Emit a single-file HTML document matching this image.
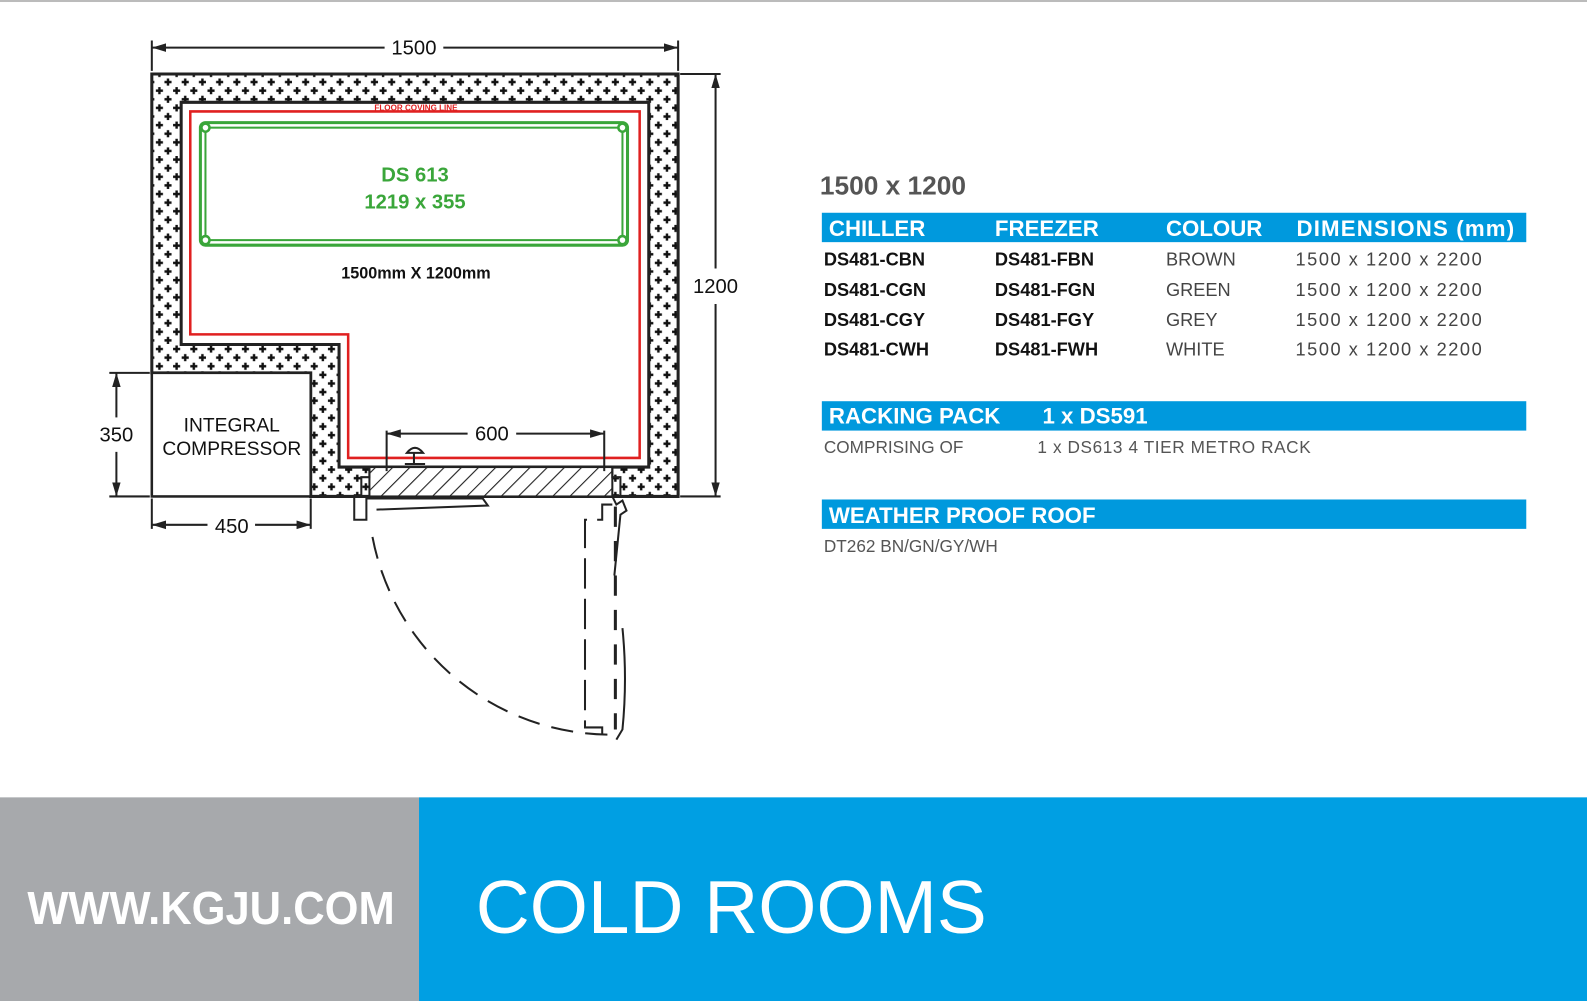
<!DOCTYPE html>
<html><head><meta charset="utf-8"><style>
html,body{margin:0;padding:0;background:#fff;}
svg{display:block;}
</style></head><body>
<svg width="1587" height="1001" viewBox="0 0 1568 988" preserveAspectRatio="none" xmlns="http://www.w3.org/2000/svg" font-family="Liberation Sans, sans-serif">
<defs>
<pattern id="dots" x="0" y="0" width="17" height="17" patternUnits="userSpaceOnUse">
<rect width="17" height="17" fill="#fff"/>
<path d="M4.5 1v7M1 4.5h7M13 9.5v7M9.5 13h7" stroke="#111" stroke-width="2.4"/>
</pattern>
<pattern id="hatch" width="12" height="12" patternUnits="userSpaceOnUse" patternTransform="rotate(45)">
<rect width="12" height="12" fill="#fff"/><line x1="0" y1="0" x2="0" y2="12" stroke="#222" stroke-width="2.2"/>
</pattern>
<marker id="ar" viewBox="0 0 10 10" refX="10" refY="5" markerWidth="7" markerHeight="7" orient="auto-start-reverse"><path d="M0 2L10 5L0 8z" fill="#222"/></marker>
</defs>
<rect x="0" y="0" width="1568" height="2" fill="#bbb"/>
<path fill-rule="evenodd" fill="url(#dots)" stroke="#222" stroke-width="3" d="M150 73H670V490H307V368H150Z M179 101H641V461H335V340H179Z"/>
<rect x="150" y="368" width="157" height="122" fill="#fff" stroke="#222" stroke-width="2.5"/>
<rect x="365" y="461" width="240" height="29" fill="url(#hatch)" stroke="#222" stroke-width="2"/>
<path d="M365 461v10h-8v19M605 461v10h8v19" stroke="#222" stroke-width="2" fill="none"/>
<path d="M188 110H632V452H344V330H188Z" fill="none" stroke="#e02020" stroke-width="2.5"/>
<text x="411" y="109" font-size="8" fill="#e02020" text-anchor="middle" font-weight="bold">FLOOR COVING LINE</text>
<rect x="198" y="121" width="422" height="121" rx="5" fill="none" stroke="#3aa63a" stroke-width="3"/>
<rect x="203" y="126" width="412" height="111" fill="none" stroke="#3aa63a" stroke-width="2"/>
<g fill="#fff" stroke="#3aa63a" stroke-width="2.5"><circle cx="203" cy="126" r="4"/><circle cx="615" cy="126" r="4"/><circle cx="203" cy="237" r="4"/><circle cx="615" cy="237" r="4"/></g>
<text x="410" y="179" font-size="20" font-weight="bold" fill="#3aa63a" text-anchor="middle">DS 613</text>
<text x="410" y="206" font-size="20" font-weight="bold" fill="#3aa63a" text-anchor="middle">1219 x 355</text>
<text x="411" y="275" font-size="16" font-weight="bold" fill="#111" text-anchor="middle">1500mm X 1200mm</text>
<text x="229" y="426" font-size="19" fill="#111" text-anchor="middle">INTEGRAL</text>
<text x="229" y="449" font-size="19" fill="#111" text-anchor="middle">COMPRESSOR</text>
<g stroke="#222" stroke-width="2" fill="none">
<path d="M150 40v30M670 40v30"/>
<line x1="150" y1="47" x2="380" y2="47" marker-start="url(#ar)"/>
<line x1="438" y1="47" x2="670" y2="47" marker-end="url(#ar)"/>
<path d="M672 73h40M672 490h40"/>
<line x1="707" y1="73" x2="707" y2="265" marker-start="url(#ar)"/>
<line x1="707" y1="300" x2="707" y2="490" marker-end="url(#ar)"/>
<path d="M108 368h40M108 490h40"/>
<line x1="115" y1="368" x2="115" y2="412" marker-start="url(#ar)"/>
<line x1="115" y1="446" x2="115" y2="490" marker-end="url(#ar)"/>
<path d="M150 492v30M307 492v30"/>
<line x1="150" y1="518" x2="205" y2="518" marker-start="url(#ar)"/>
<line x1="252" y1="518" x2="307" y2="518" marker-end="url(#ar)"/>
<path d="M382 425v40M597 425v40"/>
<line x1="382" y1="428" x2="462" y2="428" marker-start="url(#ar)"/>
<line x1="510" y1="428" x2="597" y2="428" marker-end="url(#ar)"/>
</g>
<g font-size="20" fill="#111" text-anchor="middle">
<text x="409" y="54">1500</text><text x="707" y="289">1200</text>
<text x="115" y="436">350</text><text x="229" y="526">450</text><text x="486" y="435">600</text>
</g>
<g stroke="#222" stroke-width="2" fill="none">
<path d="M402 447q8-10 16 0zM409 447v10M400 458h20"/>
<path d="M350 490h12v23h-12zM362 492h115l5 7l-110 4"/>
<path d="M605 490l4 8 6-4 4 10-6 4-6 60"/>
<path d="M368 530A240 240 0 0 0 610 725" stroke-dasharray="22 12"/>
<path d="M605 498h-10v15h-17v205h17v12" stroke-dasharray="30 10"/>
<path d="M608 500v220" stroke-dasharray="20 14" stroke-width="3"/>
<path d="M615 620q5 50 0 100l-6 10"/>
</g>
<text x="810" y="192" font-size="26" font-weight="bold" fill="#555">1500 x 1200</text>
<rect x="812" y="210" width="696" height="29" fill="#0099dd"/>
<g font-size="22" font-weight="bold" fill="#fff"><text x="819" y="233">CHILLER</text><text x="983" y="233">FREEZER</text><text x="1152" y="233">COLOUR</text><text x="1281" y="233" textLength="215">DIMENSIONS (mm)</text></g>
<g font-size="18" fill="#111">
<g font-weight="bold"><text x="814" y="262">DS481-CBN</text><text x="983" y="262">DS481-FBN</text>
<text x="814" y="292">DS481-CGN</text><text x="983" y="292">DS481-FGN</text>
<text x="814" y="322">DS481-CGY</text><text x="983" y="322">DS481-FGY</text>
<text x="814" y="351">DS481-CWH</text><text x="983" y="351">DS481-FWH</text></g>
<g fill="#444"><text x="1152" y="262">BROWN</text><text x="1152" y="292">GREEN</text><text x="1152" y="322">GREY</text><text x="1152" y="351">WHITE</text>
<text x="1280" y="262" textLength="184">1500 x 1200 x 2200</text><text x="1280" y="292" textLength="184">1500 x 1200 x 2200</text><text x="1280" y="322" textLength="184">1500 x 1200 x 2200</text><text x="1280" y="351" textLength="184">1500 x 1200 x 2200</text></g>
</g>
<rect x="812" y="396" width="696" height="29" fill="#0099dd"/>
<g font-size="22" font-weight="bold" fill="#fff"><text x="819" y="418">RACKING PACK</text><text x="1030" y="418">1 x DS591</text></g>
<g font-size="17" fill="#555"><text x="814" y="447">COMPRISING OF</text><text x="1025" y="447" textLength="270">1 x DS613 4 TIER METRO RACK</text></g>
<rect x="812" y="493" width="696" height="29" fill="#0099dd"/>
<text x="819" y="516" font-size="22" font-weight="bold" fill="#fff">WEATHER PROOF ROOF</text>
<text x="814" y="545" font-size="17" fill="#555">DT262 BN/GN/GY/WH</text>
<rect x="0" y="787" width="414" height="201" fill="#a7a9ac"/>
<rect x="414" y="787" width="1154" height="201" fill="#009fe3"/>
<text x="27" y="912" font-size="46" font-weight="bold" fill="#fff" textLength="363" lengthAdjust="spacingAndGlyphs">WWW.KGJU.COM</text>
<text x="470" y="921" font-size="74" fill="#fff" textLength="505" lengthAdjust="spacingAndGlyphs">COLD ROOMS</text>
</svg>
</body></html>
